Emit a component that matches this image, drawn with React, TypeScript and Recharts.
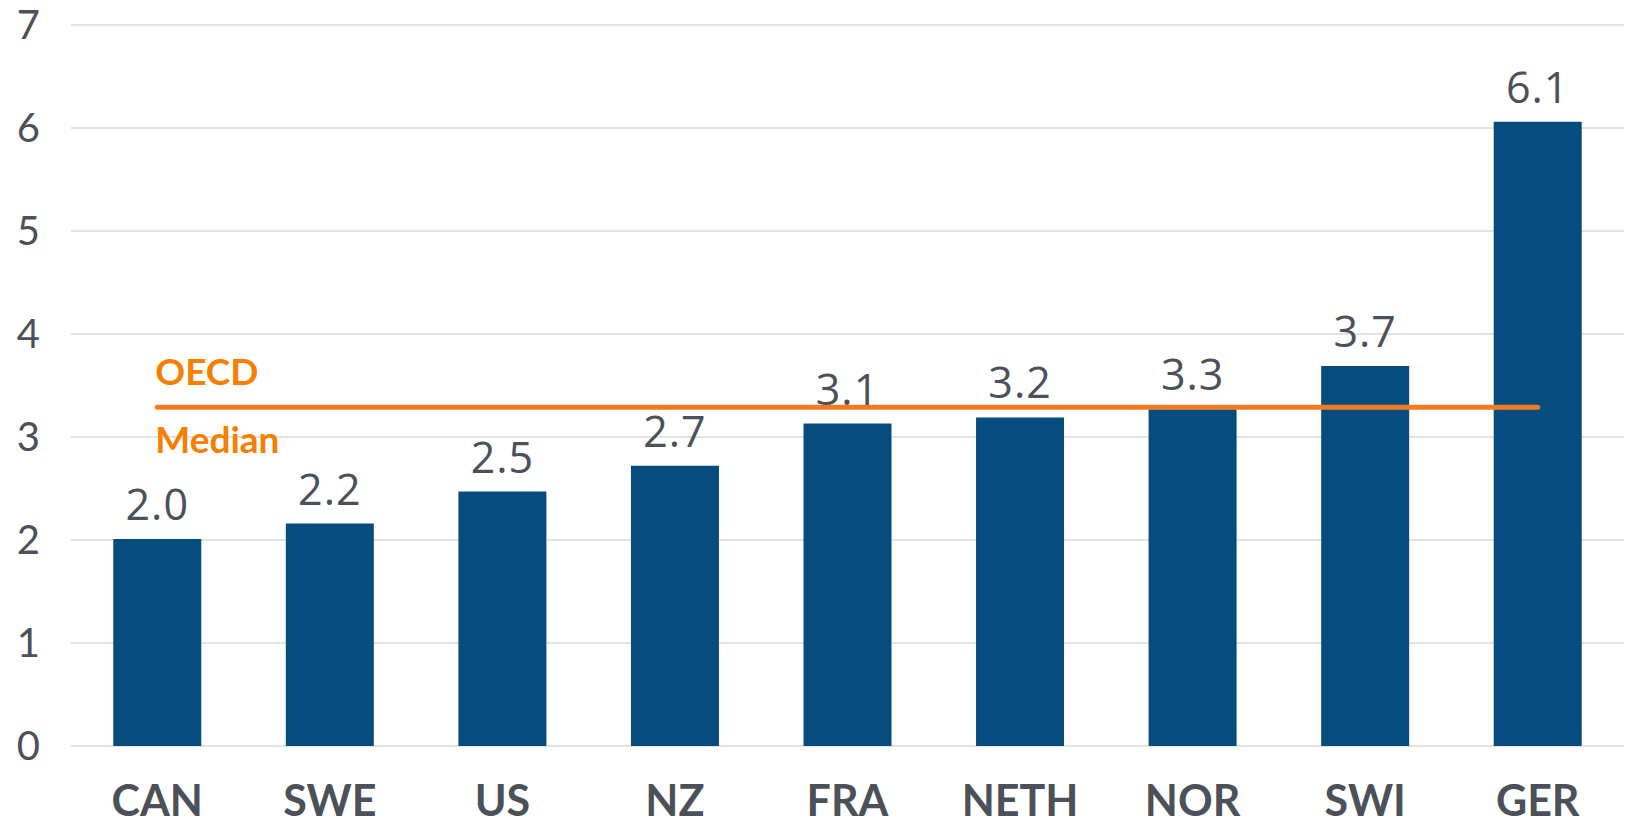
import React from 'react';
import { BarChart, Bar, XAxis, YAxis, CartesianGrid, ReferenceLine, LabelList } from 'recharts';

const countries = ['CAN', 'SWE', 'US', 'NZ', 'FRA', 'NETH', 'NOR', 'SWI', 'GER'];
const values = [2.01, 2.16, 2.47, 2.72, 3.13, 3.19, 3.27, 3.69, 6.06];
const valueLabels = ['2.0', '2.2', '2.5', '2.7', '3.1', '3.2', '3.3', '3.7', '6.1'];
const yTicks = [0, 1, 2, 3, 4, 5, 6, 7];
const oecdMedian = 3.29;
const medianFrom = 'CAN';
const medianTo = 'GER';

const data = countries.map((c, i) => ({ country: c, value: values[i], label: valueLabels[i] }));

const GRAY = '#4b5059';
const ORANGE = '#F47B20';
const ORANGE_TEXT = '#F77F00';

const MedianLabel = (props: any) => {
  const vb = props.viewBox || {};
  const x = vb.x ?? 0;
  const y = vb.y ?? 0;
  return (
    <g>
      <text x={x - 2} y={y - 22} fill={ORANGE_TEXT} fontFamily="Lato" fontWeight={700} fontSize={37}>OECD</text>
      <text x={x - 2} y={y + 46} fill={ORANGE_TEXT} fontFamily="Lato" fontWeight={700} fontSize={37}>Median</text>
    </g>
  );
};

export default function App() {
  return (
    <div style={{ position: 'absolute', left: 0, top: 0, background: '#fff' }}>
      <BarChart
        width={1628}
        height={821}
        data={data}
        margin={{ top: 25, right: 4, bottom: 0, left: 0 }}
        barCategoryGap="24.5%"
      >
        <CartesianGrid vertical={false} stroke="#e3e3e3" strokeWidth={2} />
        <XAxis
          dataKey="country"
          axisLine={false}
          tickLine={false}
          height={75}
          interval={0}
          tick={{ fill: GRAY, fontFamily: 'Lato', fontWeight: 700, fontSize: 43 }}
          tickMargin={33}
        />
        <YAxis
          domain={[0, 7]}
          ticks={yTicks}
          width={71}
          axisLine={false}
          tickLine={false}
          tickMargin={25}
          tick={{ fill: GRAY, fontFamily: 'Lato', fontSize: 40, textAnchor: 'end' }}
        />
        <Bar dataKey="value" fill="#074C7F" isAnimationActive={false}>
          <LabelList
            dataKey="label"
            position="top"
            offset={19}
            fill={GRAY}
            fontFamily="Open Sans"
            fontSize={43}
            letterSpacing={1}
          />
        </Bar>
        <ReferenceLine
          segment={[{ x: medianFrom, y: oecdMedian }, { x: medianTo, y: oecdMedian }]}
          stroke={ORANGE}
          strokeWidth={5}
          strokeLinecap="round"
          ifOverflow="visible"
          label={<MedianLabel />}
        />
      </BarChart>
    </div>
  );
}
